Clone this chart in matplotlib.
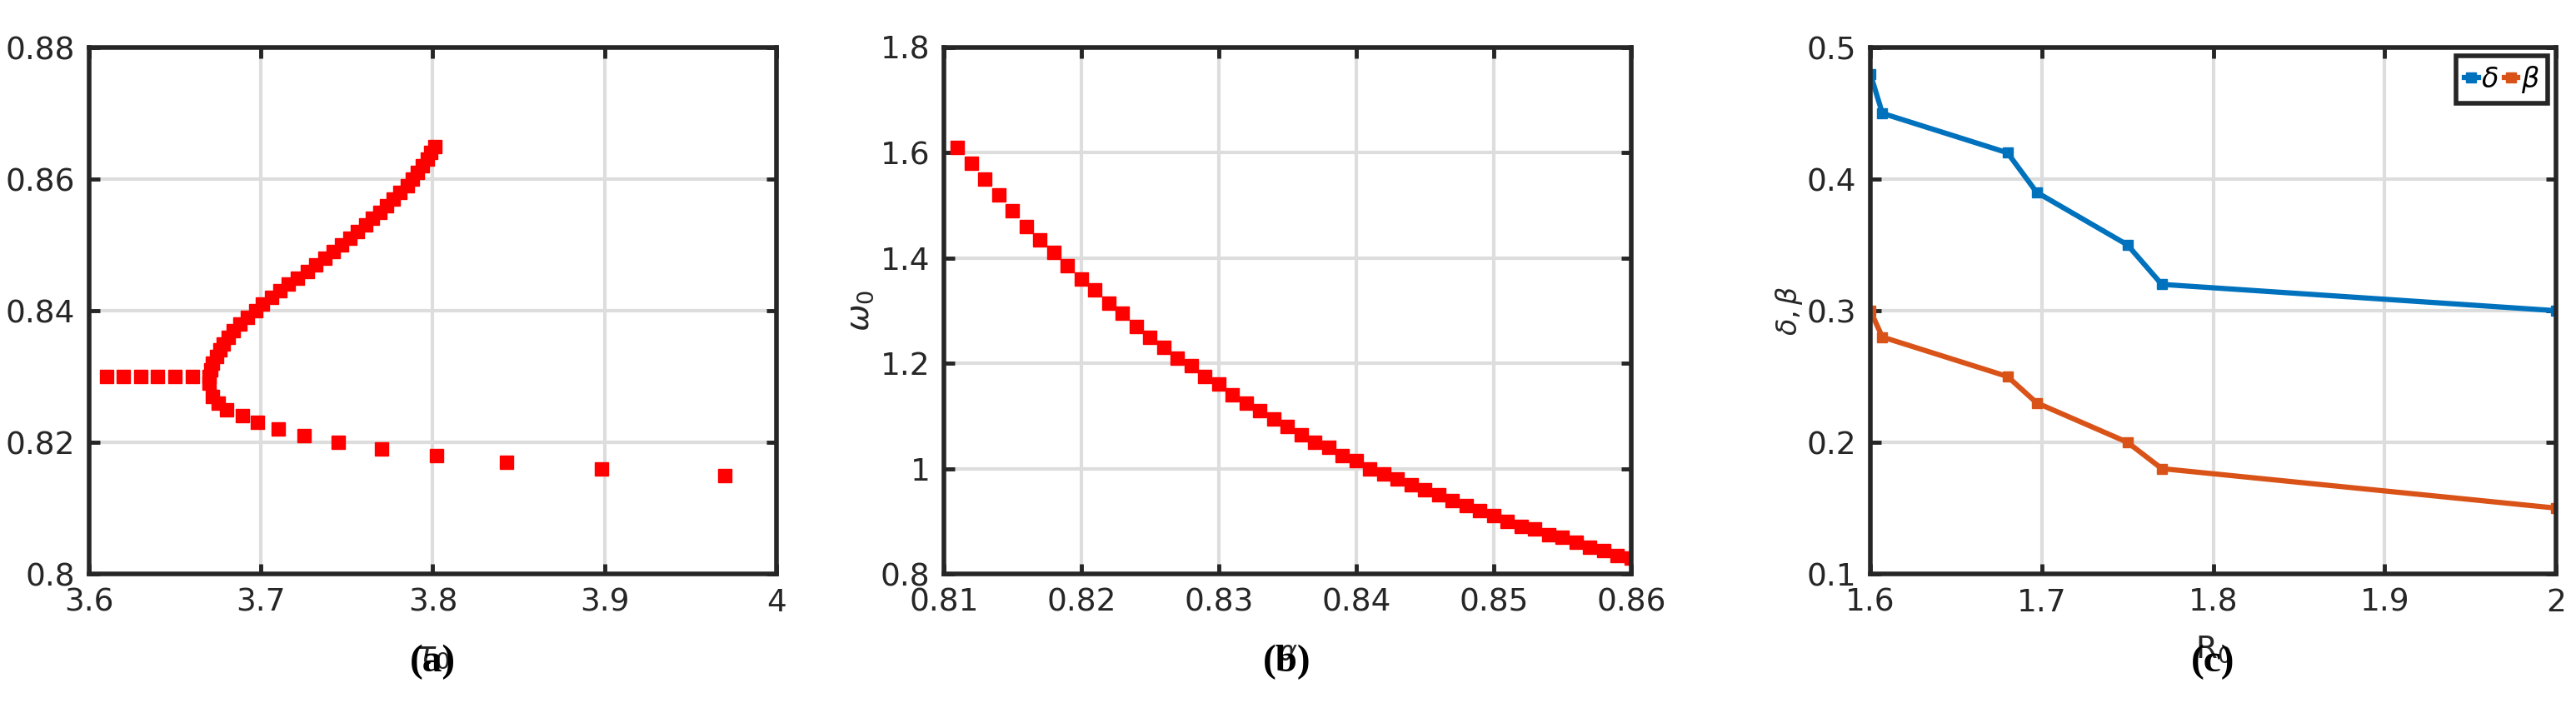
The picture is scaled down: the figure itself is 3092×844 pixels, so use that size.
import matplotlib
matplotlib.use("Agg")
import matplotlib.pyplot as plt

# Panel (a)
tau_flat = [3.61, 3.62, 3.63, 3.64, 3.65, 3.66]
alpha_flat = [0.83]*6
tau_up = [3.670, 3.671, 3.672, 3.674, 3.676, 3.678, 3.681, 3.684, 3.688, 3.692, 3.697,
          3.701, 3.706, 3.711, 3.716, 3.721, 3.727, 3.732, 3.737, 3.742, 3.747,
          3.752, 3.756, 3.761, 3.765, 3.769, 3.773, 3.777, 3.781, 3.785, 3.788,
          3.791, 3.794, 3.797, 3.799, 3.801]
alpha_up = [0.830, 0.831, 0.832, 0.833, 0.834, 0.835, 0.836, 0.837, 0.838, 0.839, 0.840,
            0.841, 0.842, 0.843, 0.844, 0.845, 0.846, 0.847, 0.848, 0.849, 0.850,
            0.851, 0.852, 0.853, 0.854, 0.855, 0.856, 0.857, 0.858, 0.859, 0.860,
            0.861, 0.862, 0.863, 0.864, 0.865]
tau_low = [3.670, 3.672, 3.675, 3.680, 3.689, 3.698, 3.710, 3.725, 3.745, 3.770, 3.802, 3.843, 3.898, 3.970]
alpha_low = [0.829, 0.827, 0.826, 0.825, 0.824, 0.823, 0.822, 0.821, 0.820, 0.819, 0.818, 0.817, 0.816, 0.815]

# Panel (b)
alpha_b = [0.811, 0.812, 0.813, 0.814, 0.815, 0.816, 0.817, 0.818, 0.819, 0.820,
           0.821, 0.822, 0.823, 0.824, 0.825, 0.826, 0.827, 0.828, 0.829, 0.830,
           0.831, 0.832, 0.833, 0.834, 0.835, 0.836, 0.837, 0.838, 0.839, 0.840,
           0.841, 0.842, 0.843, 0.844, 0.845, 0.846, 0.847, 0.848, 0.849, 0.850,
           0.851, 0.852, 0.853, 0.854, 0.855, 0.856, 0.857, 0.858, 0.859, 0.860]
omega_b = [1.61, 1.58, 1.55, 1.52, 1.49, 1.46, 1.435, 1.41, 1.385, 1.36,
           1.34, 1.315, 1.295, 1.27, 1.25, 1.23, 1.21, 1.195, 1.175, 1.16,
           1.14, 1.125, 1.11, 1.095, 1.08, 1.065, 1.05, 1.04, 1.025, 1.015,
           1.00, 0.99, 0.98, 0.97, 0.96, 0.95, 0.94, 0.93, 0.92, 0.91,
           0.90, 0.89, 0.885, 0.875, 0.87, 0.86, 0.85, 0.845, 0.835, 0.83]

# Panel (c)
R0 = [1.6, 1.607, 1.68, 1.697, 1.75, 1.77, 2.0]
delta = [0.48, 0.45, 0.42, 0.39, 0.35, 0.32, 0.30]
beta = [0.30, 0.28, 0.25, 0.23, 0.20, 0.18, 0.15]

fig = plt.figure(figsize=(30.92, 8.44), dpi=100)
W, H = 3092, 844
def ax_at(l, r, t, b):
    return fig.add_axes([l/W, 1-b/H, (r-l)/W, (b-t)/H])

axes = [ax_at(107, 932, 57, 689), ax_at(1133, 1958, 57, 689), ax_at(2245, 3068, 57, 689)]
TS = 27
fam = ["Liberation Sans Narrow", "DejaVu Sans"]

for ax in axes:
    ax.grid(True, color="#dddddd", linewidth=3)
    ax.set_axisbelow(True)
    for s in ax.spines.values():
        s.set_linewidth(4)
        s.set_color("#262626")
    ax.tick_params(direction="in", length=9, width=3.5, colors="#262626", labelsize=TS,
                   top=True, right=True, pad=12)

ms = 12
ax = axes[0]
ax.plot(tau_flat, alpha_flat, "s", color="red", ms=ms)
ax.plot(tau_up, alpha_up, "s", color="red", ms=ms)
ax.plot(tau_low, alpha_low, "s", color="red", ms=ms)
ax.set_xlim(3.6, 4); ax.set_ylim(0.8, 0.88)
ax.set_xticks([3.6, 3.7, 3.8, 3.9, 4]); ax.set_xticklabels(["3.6", "3.7", "3.8", "3.9", "4"])
ax.set_yticks([0.8, 0.82, 0.84, 0.86, 0.88]); ax.set_yticklabels(["0.8", "0.82", "0.84", "0.86", "0.88"])
ax.set_xlabel(r"$\tau_0$", fontsize=28, color="#262626", labelpad=18)
ax.set_ylabel(r"$\alpha$", fontsize=24, color="#262626", labelpad=0)

ax = axes[1]
ax.plot(alpha_b, omega_b, "s", color="red", ms=ms)
ax.set_xlim(0.81, 0.86); ax.set_ylim(0.8, 1.8)
ax.set_xticks([0.81, 0.82, 0.83, 0.84, 0.85, 0.86]); ax.set_xticklabels(["0.81", "0.82", "0.83", "0.84", "0.85", "0.86"])
ax.set_yticks([0.8, 1, 1.2, 1.4, 1.6, 1.8]); ax.set_yticklabels(["0.8", "1", "1.2", "1.4", "1.6", "1.8"])
ax.set_xlabel(r"$\alpha$", fontsize=24, color="#262626", labelpad=18)
ax.set_ylabel(r"$\omega_0$", fontsize=28, color="#262626", labelpad=4)

ax = axes[2]
ax.plot(R0, delta, "s-", color="#0072BD", lw=4.5, ms=8, label=r"$\delta$")
ax.plot(R0, beta, "s-", color="#D95319", lw=4.5, ms=8, label=r"$\beta$")
ax.set_xlim(1.6, 2); ax.set_ylim(0.1, 0.5)
ax.set_xticks([1.6, 1.7, 1.8, 1.9, 2]); ax.set_xticklabels(["1.6", "1.7", "1.8", "1.9", "2"])
ax.set_yticks([0.1, 0.2, 0.3, 0.4, 0.5]); ax.set_yticklabels(["0.1", "0.2", "0.3", "0.4", "0.5"])
ax.set_xlabel("R$_0$", fontsize=TS, color="#262626", family=fam, labelpad=14)
ax.set_ylabel(r"$\delta,\beta$", fontsize=24, color="#262626", labelpad=2)
leg = ax.legend(loc="upper right", ncol=2, fontsize=24, handlelength=0.5, handletextpad=0.1,
                columnspacing=0.2, borderpad=0.3, fancybox=False, framealpha=1,
                borderaxespad=0.3)
leg.get_frame().set_edgecolor("#262626"); leg.get_frame().set_linewidth(4)

for ax in axes:
    for lab in ax.get_xticklabels() + ax.get_yticklabels():
        lab.set_family(fam)

for x, t in [(519, "(a)"), (1545, "(b)"), (2656, "(c)")]:
    fig.text(x/W, 1-795/H, t, ha="center", va="center", fontsize=34,
             family="Liberation Serif", fontweight="bold")
fig.savefig("out.png", dpi=100)
